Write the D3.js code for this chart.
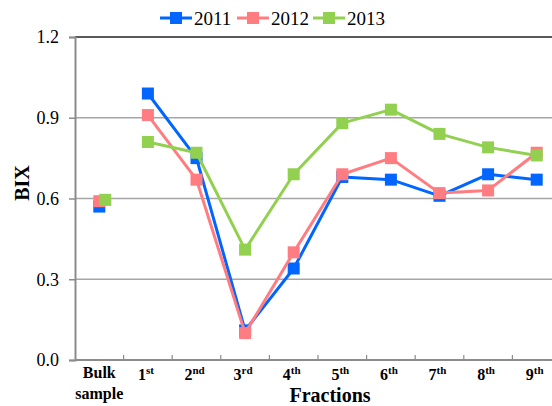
<!DOCTYPE html>
<html>
<head>
<meta charset="utf-8">
<script src="https://cdn.jsdelivr.net/npm/d3@7"></script>
<style>
  html, body { margin: 0; padding: 0; background: #fff; }
  svg { display: block; font-family: "Liberation Serif", "Times New Roman", serif; }
</style>
</head>
<body>
<svg id="chart" width="552" height="406"></svg>
<script>
// Fraction labels: main text plus superscript suffix
const categories = ["Bulk", "1", "2", "3", "4", "5", "6", "7", "8", "9"];
const suffixes   = ["",     "st", "nd", "rd", "th", "th", "th", "th", "th", "th"];

// BIX values per year (first entry is the bulk sample, drawn unconnected)
const years = ["2011", "2012", "2013"];
const bix2011 = [0.57, 0.99, 0.75, 0.11, 0.34, 0.68, 0.67, 0.61, 0.69, 0.67];
const bix2012 = [0.59, 0.91, 0.67, 0.10, 0.40, 0.69, 0.75, 0.62, 0.63, 0.77];
const bix2013 = [0.595, 0.81, 0.77, 0.41, 0.69, 0.88, 0.93, 0.84, 0.79, 0.76];

const yTicks = [0.0, 0.3, 0.6, 0.9, 1.2];

const colors = { "2011": "#0066ff", "2012": "#ff7c80", "2013": "#92d050" };
const bulkShift = { "2011": 0, "2012": 0, "2013": 6 };

const series = [
  { name: "2011", values: bix2011 },
  { name: "2012", values: bix2012 },
  { name: "2013", values: bix2013 }
];

const svg = d3.select("#chart");
const plotLeft = 75, plotTop = 37, plotBottom = 360, plotRight = 552;
const step = 48.6;

const x = d3.scaleBand()
  .domain(categories)
  .range([plotLeft, plotLeft + step * categories.length])
  .paddingInner(0).paddingOuter(0);

const y = d3.scaleLinear().domain([0, 1.2]).range([plotBottom, plotTop]);

const xc = c => x(c) + x.bandwidth() / 2;

// Horizontal gridlines
svg.append("g")
  .selectAll("line")
  .data(yTicks.filter(t => t > 0 && t < 1.2))
  .join("line")
  .attr("x1", plotLeft).attr("x2", plotRight)
  .attr("y1", d => y(d)).attr("y2", d => y(d))
  .attr("stroke", "#a6a6a6").attr("stroke-width", 1.5);

// Top border
svg.append("line")
  .attr("x1", plotLeft).attr("x2", plotRight)
  .attr("y1", y(1.2)).attr("y2", y(1.2))
  .attr("stroke", "#222").attr("stroke-width", 1.5);

// Y axis
const yAxis = d3.axisLeft(y).tickValues(yTicks).tickFormat(d3.format(".1f")).tickSize(6).tickPadding(10);
const gy = svg.append("g").attr("transform", `translate(${plotLeft},0)`).call(yAxis);
gy.attr("font-family", null);
gy.select(".domain").attr("stroke", "#8c8c8c").attr("stroke-width", 2);
gy.selectAll(".tick line").attr("stroke", "#8c8c8c").attr("stroke-width", 1.5);
gy.selectAll(".tick text")
  .attr("font-family", "'Liberation Serif', serif")
  .attr("font-size", 18).attr("fill", "#000");

// X axis line with category boundary ticks
svg.append("line")
  .attr("x1", plotLeft).attr("x2", plotRight)
  .attr("y1", plotBottom).attr("y2", plotBottom)
  .attr("stroke", "#8c8c8c").attr("stroke-width", 2);

svg.append("g")
  .selectAll("line")
  .data(categories.slice(1))
  .join("line")
  .attr("x1", d => x(d)).attr("x2", d => x(d))
  .attr("y1", plotBottom).attr("y2", plotBottom - 5)
  .attr("stroke", "#8c8c8c").attr("stroke-width", 1.2);

// X tick labels
const xl = svg.append("g")
  .attr("font-weight", "bold")
  .attr("font-size", 16)
  .attr("text-anchor", "middle");

categories.forEach((c, i) => {
  if (c === "Bulk") {
    const t = xl.append("text").attr("x", xc(c)).attr("y", 378);
    t.append("tspan").attr("x", xc(c)).text("Bulk");
    t.append("tspan").attr("x", xc(c)).attr("dy", 21).text("sample");
  } else {
    const t = xl.append("text").attr("x", xc(c) - 2).attr("y", 380);
    t.append("tspan").text(c);
    t.append("tspan").attr("font-size", 11).attr("dy", -6).text(suffixes[i]);
  }
});

// Axis titles
svg.append("text")
  .attr("x", 330).attr("y", 402)
  .attr("text-anchor", "middle")
  .attr("font-weight", "bold").attr("font-size", 20)
  .text("Fractions");

svg.append("text")
  .attr("transform", `translate(29,183) rotate(-90)`)
  .attr("text-anchor", "middle")
  .attr("font-weight", "bold").attr("font-size", 20)
  .text("BIX");

// Series: lines over fractions 1st–9th, bulk sample as a lone marker
const line = d3.line().x(d => xc(d.cat)).y(d => y(d.v));
const ms = 12;

series.forEach(s => {
  const pts = s.values.map((v, i) => ({ cat: categories[i], v }));
  const g = svg.append("g");
  g.append("path")
    .datum(pts.slice(1))
    .attr("d", line)
    .attr("fill", "none")
    .attr("stroke", colors[s.name])
    .attr("stroke-width", 3)
    .attr("stroke-linejoin", "round");
  g.selectAll("rect")
    .data(pts)
    .join("rect")
    .attr("x", (d, i) => xc(d.cat) - ms / 2 + (i === 0 ? bulkShift[s.name] : 0))
    .attr("y", d => y(d.v) - ms / 2)
    .attr("width", ms).attr("height", ms)
    .attr("fill", colors[s.name]);
});

// Legend
const legendX = [160, 237, 313];
const lg = svg.append("g");
years.forEach((yr, i) => {
  const lx = legendX[i];
  lg.append("line")
    .attr("x1", lx).attr("x2", lx + 32)
    .attr("y1", 18).attr("y2", 18)
    .attr("stroke", colors[yr]).attr("stroke-width", 3);
  lg.append("rect")
    .attr("x", lx + 16 - 6).attr("y", 12)
    .attr("width", 12).attr("height", 12)
    .attr("fill", colors[yr]);
  lg.append("text")
    .attr("x", lx + 34).attr("y", 25)
    .attr("font-size", 19)
    .text(yr);
});
</script>
</body>
</html>
